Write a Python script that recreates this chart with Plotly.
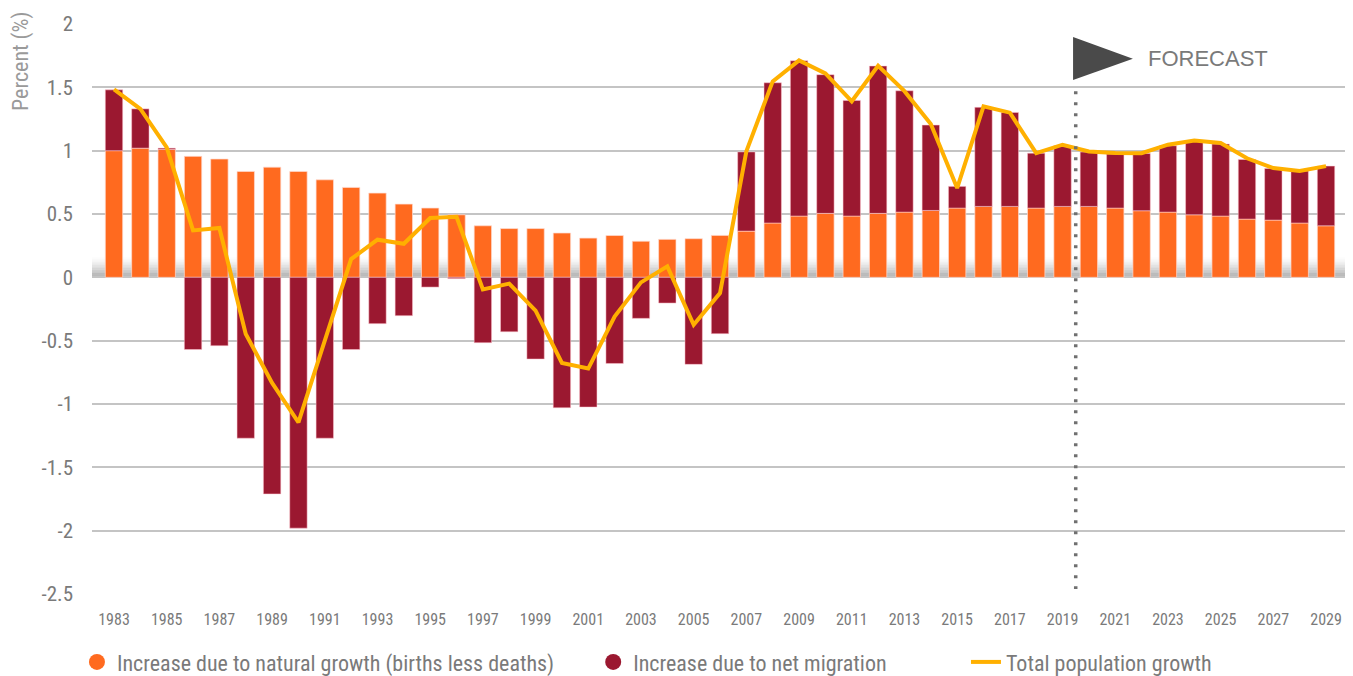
import plotly.graph_objects as go

years = list(range(1983, 2030))
natural = [1.00, 1.02, 1.01, 0.955, 0.934, 0.836, 0.87, 0.836, 0.77, 0.71,
           0.665, 0.578, 0.547, 0.494, 0.407, 0.385, 0.385, 0.35, 0.31, 0.33,
           0.285, 0.30, 0.305, 0.331, 0.365, 0.429, 0.484, 0.505, 0.484, 0.505,
           0.515, 0.528, 0.547, 0.56, 0.56, 0.547, 0.56, 0.56, 0.547, 0.526,
           0.515, 0.494, 0.484, 0.46, 0.452, 0.429, 0.407]
migration = [0.48, 0.31, 0.01, -0.57, -0.54, -1.27, -1.71, -1.98, -1.27, -0.57,
             -0.366, -0.303, -0.077, -0.01, -0.516, -0.43, -0.645, -1.03, -1.024, -0.68,
             -0.324, -0.203, -0.687, -0.445, 0.625, 1.107, 1.226, 1.095, 0.913, 1.163,
             0.958, 0.674, 0.171, 0.782, 0.742, 0.433, 0.479, 0.429, 0.426, 0.452,
             0.524, 0.579, 0.568, 0.471, 0.408, 0.411, 0.471]
total = [1.484, 1.33, 1.026, 0.37, 0.39, -0.447, -0.834, -1.145, -0.5, 0.144,
         0.297, 0.265, 0.468, 0.478, -0.095, -0.05, -0.263, -0.676, -0.72, -0.31,
         -0.04, 0.087, -0.374, -0.124, 0.995, 1.547, 1.713, 1.61, 1.39, 1.67,
         1.47, 1.21, 0.705, 1.35, 1.30, 0.98, 1.047, 0.994, 0.981, 0.98,
         1.047, 1.08, 1.06, 0.94, 0.863, 0.84, 0.878]

x_tick_vals = list(range(1983, 2030, 2))
x_tick_text = [str(y) for y in x_tick_vals]
y_tick_vals = [2, 1.5, 1, 0.5, 0, -0.5, -1, -1.5, -2, -2.5]
y_tick_text = ["2", "1.5", "1", "0.5", "0", "-0.5", "-1", "-1.5", "-2", "-2.5"]

forecast_start = 2019.5

names = ["Increase due to natural growth (births less deaths)",
         "Increase due to net migration",
         "Total population growth"]

ORANGE = "#FF6A1F"
DARKRED = "#9B1830"
AMBER = "#FFB000"
GRAY_TXT = "#7a7a7a"
FONT = "Liberation Sans Narrow, Roboto Condensed, Arial Narrow, Roboto, sans-serif"

fig = go.Figure()
fig.add_trace(go.Bar(x=years, y=natural, marker=dict(color=ORANGE, line=dict(color="rgba(255,220,210,0.7)", width=1)),
                     name=names[0], showlegend=False))
fig.add_trace(go.Bar(x=years, y=migration, marker=dict(color=DARKRED, line=dict(color="rgba(255,200,210,0.5)", width=1)),
                     name=names[1], showlegend=False))
fig.add_trace(go.Scatter(x=years, y=total, mode="lines", line=dict(color=AMBER, width=4),
                         name=names[2], legend="legend3"))
# legend entries with circular symbols
fig.add_trace(go.Scatter(x=[None], y=[None], mode="markers", marker=dict(color=ORANGE, size=16),
                         name=names[0], legend="legend"))
fig.add_trace(go.Scatter(x=[None], y=[None], mode="markers", marker=dict(color=DARKRED, size=16),
                         name=names[1], legend="legend2"))

shapes = []
# soft shadow above the zero line
n = 14
h = 0.17 / n
for i in range(n):
    shapes.append(dict(type="rect", xref="paper", yref="y", x0=0, x1=1, y0=i * h, y1=(i + 1) * h,
                       fillcolor="#8a8a8a", opacity=0.8 * (1 - (i + 0.5) / n) ** 1.6,
                       line=dict(width=0), layer="between"))
# forecast dotted line
shapes.append(dict(type="line", xref="x", yref="y", x0=forecast_start, x1=forecast_start, y0=1.47, y1=-2.46,
                   line=dict(color="#707070", width=3.5, dash="3px,8px")))
# forecast triangle
shapes.append(dict(type="path", xref="x", yref="y",
                   path="M 2019.4,1.897 L 2019.4,1.557 L 2021.67,1.725 Z",
                   fillcolor="#4a4a4a", line=dict(width=0)))

annotations = [
    dict(text="FORECAST", xref="x", yref="y", x=2022.17, y=1.725, xanchor="left", yanchor="middle",
         showarrow=False, font=dict(family="Liberation Sans, Arial, sans-serif", size=22, color=GRAY_TXT)),
    dict(text="Percent (%)", xref="paper", yref="paper", x=-0.0572, y=0.934, xanchor="center", yanchor="middle",
         textangle=-90, showarrow=False, font=dict(family=FONT, size=22, color="#9a9a9a")),
]

leg_common = dict(orientation="h", yanchor="middle", y=-0.1195, xanchor="left",
                  font=dict(family=FONT, size=22, color=GRAY_TXT), bgcolor="rgba(0,0,0,0)",
                  borderwidth=0)

fig.update_layout(
    width=1345, height=668,
    margin=dict(l=84, r=8, t=16, b=82, autoexpand=False),
    paper_bgcolor="white", plot_bgcolor="white",
    barmode="relative", bargap=0.34,
    shapes=shapes, annotations=annotations,
    legend=dict(x=-0.012, **leg_common),
    legend2=dict(x=0.4, **leg_common),
    legend3=dict(x=0.6975, **leg_common),
    xaxis=dict(range=[1982.165, 2029.72], tickmode="array", tickvals=x_tick_vals, ticktext=x_tick_text,
               showgrid=False, zeroline=False, showline=False, ticks="", ticklabelstandoff=14,
               tickfont=dict(family=FONT, size=16, color=GRAY_TXT)),
    yaxis=dict(range=[-2.5, 2], tickmode="array", tickvals=y_tick_vals, ticktext=y_tick_text,
               showgrid=True, gridcolor="#c4c4c4", gridwidth=1.5, zeroline=False, showline=False,
               ticks="", ticklabelstandoff=18,
               tickfont=dict(family=FONT, size=21, color=GRAY_TXT)),
)

fig.write_html("out.html")
